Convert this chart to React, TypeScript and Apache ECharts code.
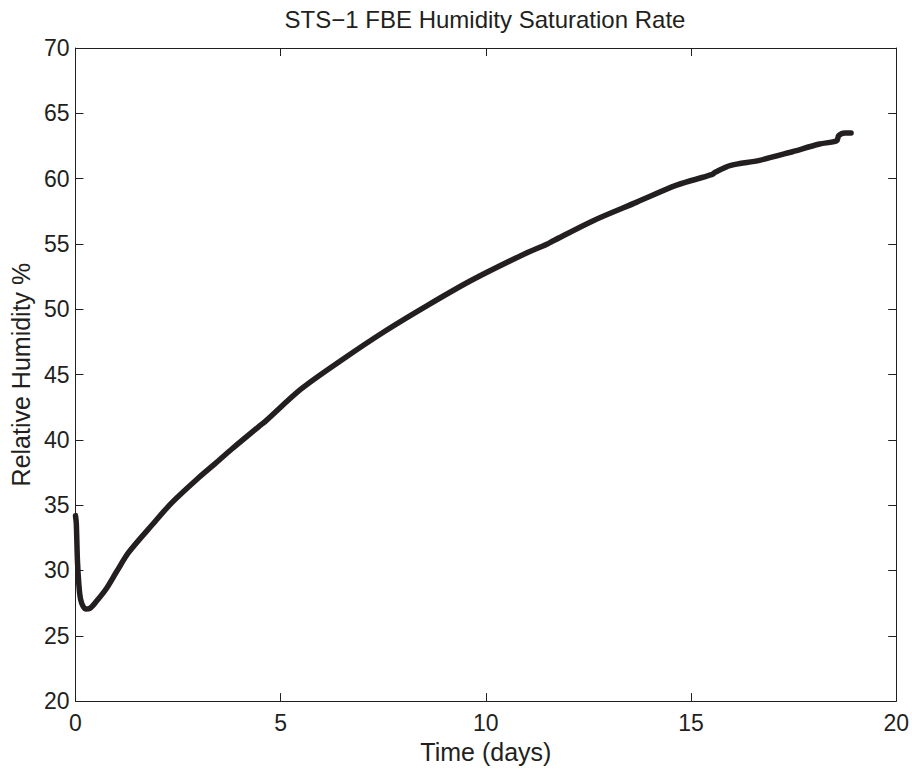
import React, { useEffect, useRef } from "react";
import * as echarts from "echarts";

const titleText = "STS\u22121 FBE Humidity Saturation Rate";
const xAxisName = "Time (days)";
const yAxisName = "Relative Humidity %";

const days = [
  0, 0.02, 0.05, 0.1, 0.15, 0.25, 0.35, 0.5, 0.75, 1.0, 1.3, 1.87, 2.35, 3.0,
  3.41, 3.81, 4.46, 4.62, 5.5, 6.48, 7.53, 8.58, 9.64, 10.85, 11.5,
  11.62, 12.63, 13.68, 14.65, 15.5, 15.6, 15.95, 16.67, 17.4, 18.13, 18.55,
  18.6, 18.75, 18.9,
];
const humidity = [
  34.2, 33.6, 30.6, 28.3, 27.5, 27.05, 27.1, 27.6, 28.6, 29.9, 31.4, 33.5,
  35.2, 37.1, 38.2, 39.3, 41.0, 41.4, 43.9, 46.1, 48.3, 50.3, 52.2,
  54.1, 55.0, 55.2, 56.8, 58.2, 59.5, 60.3, 60.5, 61.0, 61.4, 62.0, 62.65,
  62.9, 63.3, 63.5, 63.5,
];

const xTicks = { min: 0, max: 20, interval: 5 };
const yTicks = { min: 20, max: 70, interval: 5 };

const FONT = "'Liberation Sans', Arial, Helvetica, sans-serif";
const INK = "#231f20";

export default function App() {
  const ref = useRef<HTMLDivElement>(null);
  useEffect(() => {
    if (!ref.current) return;
    const chart = echarts.init(ref.current, null, { renderer: "svg" });
    const data = days.map((d, i) => [d, humidity[i]]);
    const axisCommon = {
      type: "value" as const,
      axisLine: { show: true, onZero: false, lineStyle: { color: INK, width: 1 } },
      axisTick: { show: true, inside: true, length: 8, lineStyle: { color: INK, width: 1 } },
      splitLine: { show: false },
    };
    chart.setOption({
      animation: false,
      backgroundColor: "#ffffff",
      graphic: [
        {
          type: "text",
          x: 485,
          y: 19,
          style: {
            text: titleText,
            fill: INK,
            font: `24px ${FONT}`,
            textAlign: "center",
            textVerticalAlign: "middle",
          },
        },
      ],
      grid: { left: 73, right: 15, top: 48, bottom: 61, containLabel: false },
      xAxis: [
        {
          ...axisCommon,
          ...xTicks,
          position: "bottom",
          name: xAxisName,
          nameLocation: "middle",
          nameGap: 30,
          nameTextStyle: { color: INK, fontSize: 25, fontFamily: FONT },
          axisLabel: { color: INK, fontSize: 23, fontFamily: FONT, margin: 10 },
        },
        {
          ...axisCommon,
          ...xTicks,
          position: "top",
          axisLabel: { show: false },
        },
      ],
      yAxis: [
        {
          ...axisCommon,
          ...yTicks,
          position: "left",
          name: yAxisName,
          nameLocation: "middle",
          nameGap: 42,
          nameTextStyle: { color: INK, fontSize: 25, fontFamily: FONT },
          axisLabel: { color: INK, fontSize: 23, fontFamily: FONT, margin: 6 },
        },
        {
          ...axisCommon,
          ...yTicks,
          position: "right",
          axisLabel: { show: false },
        },
      ],
      series: [
        {
          type: "line",
          data,
          xAxisIndex: 0,
          yAxisIndex: 0,
          showSymbol: false,
          symbol: "none",
          smooth: 0.3,
          lineStyle: { color: INK, width: 5.5, cap: "round", join: "round" },
        },
      ],
    });
    return () => chart.dispose();
  }, []);
  return (
    <div
      ref={ref}
      style={{ position: "fixed", left: 0, top: 0, width: 912, height: 769 }}
    />
  );
}
